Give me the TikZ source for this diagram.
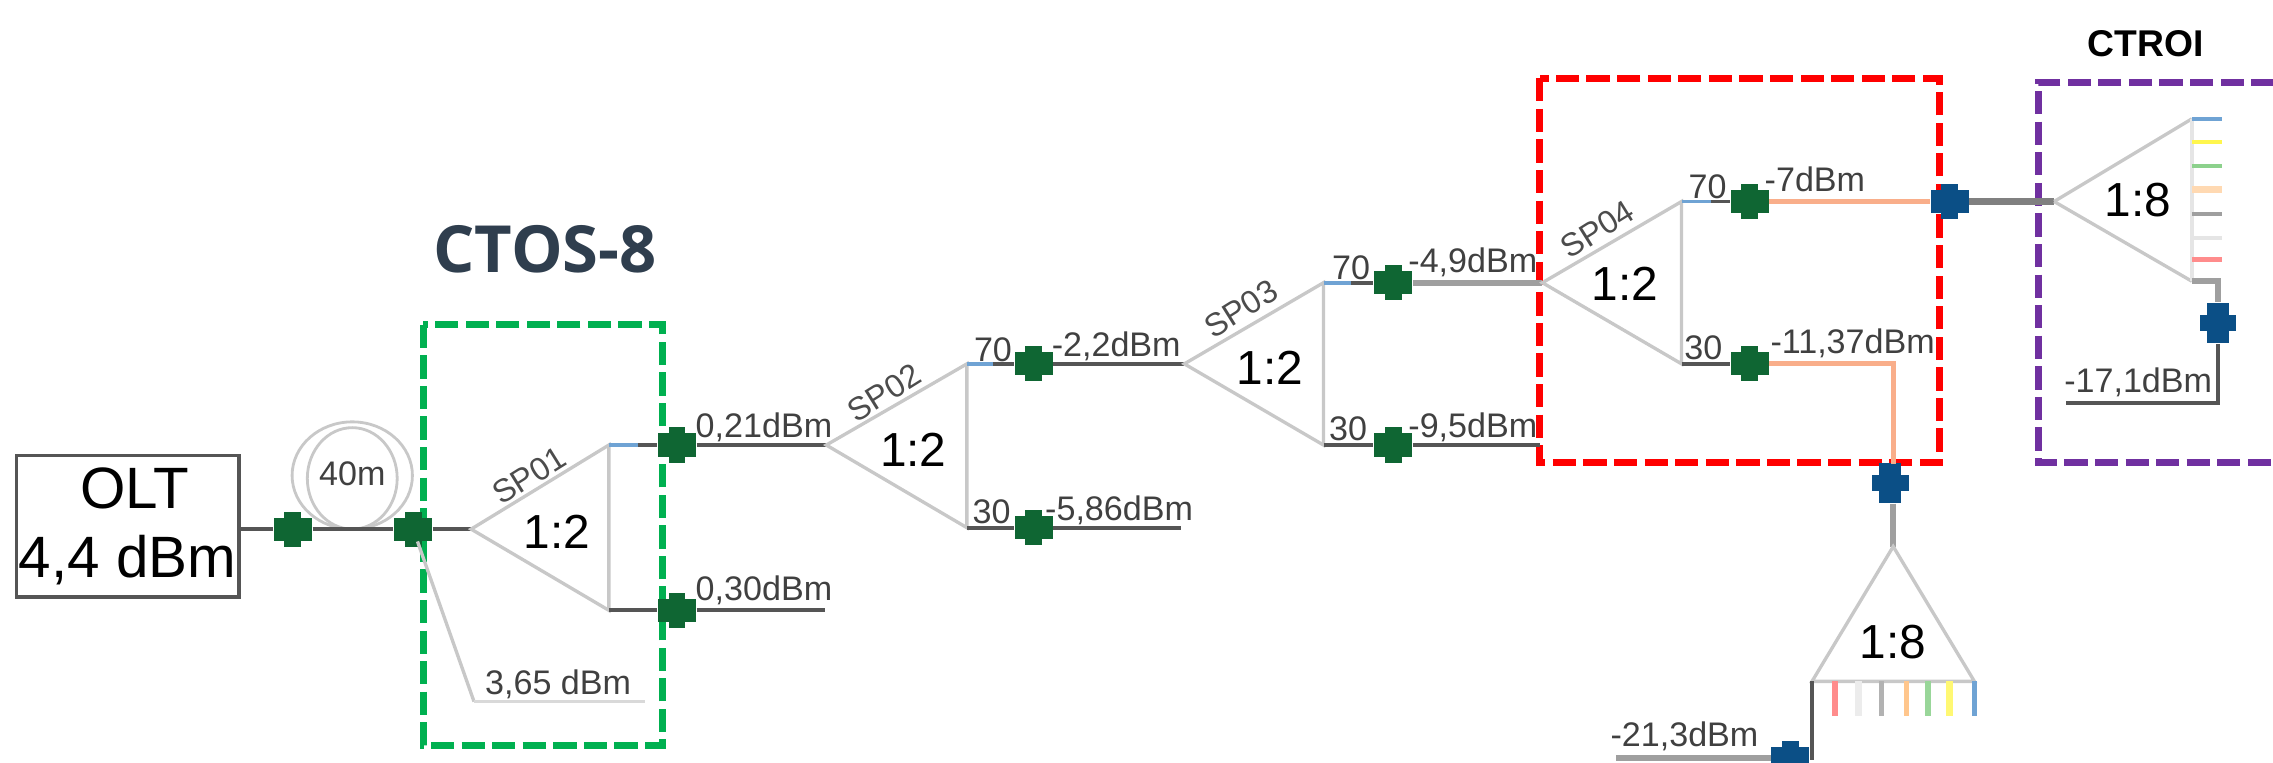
\documentclass[tikz,border=0pt]{standalone}
\usepackage{fontspec}
\setmainfont{Liberation Sans}
\newfontfamily\headfont{Open Sans}
\definecolor{plugGreen}{HTML}{0F6633}
\definecolor{plugBlue}{HTML}{0B4F86}
\definecolor{fibreDark}{HTML}{555555}
\definecolor{fibreLight}{HTML}{C8C8C8}
\definecolor{fibreOrange}{HTML}{F9AE8A}
\definecolor{tagBlue}{HTML}{6FA3D4}
\definecolor{regionGreen}{HTML}{00B050}
\definecolor{regionPurple}{HTML}{7030A0}
\definecolor{headInk}{HTML}{2F3E4E}
\begin{document}
\begin{tikzpicture}[
  x=0.0145cm, y=-0.0145cm,
  fibre/.style={line width=1.1pt, fibreDark},
  fibre thick/.style={line width=1.8pt, gray!75},
  fibre orange/.style={line width=1.4pt, fibreOrange},
  splitter/.style={line width=0.95pt, fibreLight},
  tag blue/.style={line width=1.1pt, tagBlue},
  tail/.style={line width=#1, line cap=butt},
  region/.style={line width=2pt, dash pattern=on 6.6pt off 2.1pt},
  power/.style={font=\fontsize{9.7}{11}\selectfont, text=black!75, inner sep=0pt},
  ratio/.style={font=\fontsize{13.6}{15}\selectfont, inner sep=0pt},
  spname/.style={font=\fontsize{9.2}{11}\selectfont, text=black!70, inner sep=0pt, rotate=32},
  plug/.style={rectangle, fill=#1, inner sep=0pt, minimum width=10.8pt, minimum height=6.6pt,
    label={[rectangle, fill=#1, inner sep=0pt, minimum width=4.8pt, minimum height=10pt]center:{}}},
  vplug/.style={rectangle, fill=#1, inner sep=0pt, minimum width=6.2pt, minimum height=11.5pt,
    label={[rectangle, fill=#1, inner sep=0pt, minimum width=10.4pt, minimum height=4.6pt]center:{}}}
]
  \clip (0,0) rectangle (1568,526);

  % Dashed regions
  \draw[region, regionGreen] (292,224) rectangle (457,514);
  \draw[region, red] (1062,54) rectangle (1338,319);
  \draw[region, regionPurple] (1590,57) -- (1406,57) -- (1406,319) -- (1590,319);

  \node[font=\headfont\bfseries\fontsize{18.5}{20}\selectfont, text=headInk, inner sep=0pt] (ctosLabel) at (376,172) {CTOS-8};
  \node[font=\bfseries\fontsize{10.6}{12}\selectfont, inner sep=0pt] (ctroiLabel) at (1480,30) {CTROI};

  % Source and coil
  \node[draw=fibreDark, line width=1pt, inner sep=0pt, minimum width=63.3pt, minimum height=40.3pt,
    align=center, font=\fontsize{16.6}{19.7}\selectfont] (olt) at (88,363) {\hspace*{4pt}OLT\\4,4 dBm};
  \draw[fibreLight, line width=0.8pt] (243,328) ellipse (41.5 and 37);
  \draw[fibreLight, line width=0.8pt] (243,330) ellipse (31 and 35);
  \node[font=\fontsize{9.7}{11}\selectfont, text=black!75, inner sep=0pt] (coilLabel) at (243,327) {40m};

  \node[plug=plugGreen] (plugA) at (202,365) {};
  \node[plug=plugGreen] (plugB) at (285,365) {};
  \coordinate (sp1) at (325,365);
  \coordinate (sp1top) at (420,307);
  \coordinate (sp1bot) at (420,421);
  \draw[fibre] (plugA -| olt.east) -- (plugA);
  \draw[fibre] (plugA) -- (plugB);
  \draw[fibre] (plugB) -- (sp1);

  % First splitter
  \draw[splitter] (sp1) -- (sp1top) -- (sp1bot) -- cycle;
  \node[spname] (sp1Name) at (365,328) {SP01};
  \node[ratio] (sp1Ratio) at (384,367) {1:2};
  \coordinate (tapEnd) at (327,484);
  \coordinate (tapFree) at (445,484);
  \draw[splitter] (plugB) -- (tapEnd);
  \draw[splitter, gray!30] (tapEnd) -- (tapFree);
  \node[power] (tapLabel) at (385,472) {3,65 dBm};

  \node[plug=plugGreen] (plugC) at (467,307) {};
  \node[plug=plugGreen] (plugD) at (467,421) {};
  \coordinate (sp1endB) at (569,421);
  \draw[tag blue] (sp1top) -- (440,307);
  \draw[fibre] (440,307) -- (plugC);
  \draw[fibre] (sp1bot) -- (plugD);
  \draw[fibre] (plugD) -- (sp1endB);
  \node[power] (powC) at (527,295) {0,21dBm};
  \node[power] (powD) at (527,407) {0,30dBm};

  % Second splitter
  \coordinate (sp2) at (570,307);
  \coordinate (sp2top) at (667,251);
  \coordinate (sp2bot) at (667,364);
  \draw[fibre] (plugC) -- (sp2);
  \draw[splitter] (sp2) -- (sp2top) -- (sp2bot) -- cycle;
  \node[spname] (sp2Name) at (610,271) {SP02};
  \node[ratio] (sp2Ratio) at (630,310) {1:2};
  \node[plug=plugGreen] (plugE) at (713,251) {};
  \node[plug=plugGreen] (plugF) at (713,364) {};
  \coordinate (sp2endB) at (815,364);
  \draw[tag blue] (sp2top) -- (685,251);
  \draw[fibre] (685,251) -- (plugE);
  \draw[fibre] (sp2bot) -- (plugF);
  \draw[fibre] (plugF) -- (sp2endB);
  \node[power] (tagE) at (685,241) {70};
  \node[power] (tagF) at (684,353) {30};
  \node[power] (powE) at (770,239) {-2,2dBm};
  \node[power] (powF) at (772,352) {-5,86dBm};

  % Third splitter
  \coordinate (sp3) at (817,251);
  \coordinate (sp3top) at (913,195);
  \coordinate (sp3bot) at (913,307);
  \draw[fibre] (plugE) -- (sp3);
  \draw[splitter] (sp3) -- (sp3top) -- (sp3bot) -- cycle;
  \node[spname] (sp3Name) at (856,213) {SP03};
  \node[ratio] (sp3Ratio) at (876,254) {1:2};
  \node[plug=plugGreen] (plugG) at (961,195) {};
  \node[plug=plugGreen] (plugH) at (961,307) {};
  \coordinate (sp3endB) at (1062,307);
  \draw[tag blue] (sp3top) -- (932,195);
  \draw[fibre] (932,195) -- (plugG);
  \draw[fibre] (sp3bot) -- (plugH);
  \draw[fibre] (plugH) -- (sp3endB);
  \node[power] (tagG) at (932,185) {70};
  \node[power] (tagH) at (930,296) {30};
  \node[power] (powG) at (1016,181) {-4,9dBm};
  \node[power] (powH) at (1016,295) {-9,5dBm};

  % Fourth splitter
  \coordinate (sp4) at (1064,195);
  \coordinate (sp4top) at (1160,139);
  \coordinate (sp4bot) at (1160,251);
  \draw[fibre thick] (plugG) -- (sp4);
  \draw[splitter] (sp4) -- (sp4top) -- (sp4bot) -- cycle;
  \node[spname] (sp4Name) at (1102,158) {SP04};
  \node[ratio] (sp4Ratio) at (1121,196) {1:2};
  \node[plug=plugGreen] (plugI) at (1207,139) {};
  \node[plug=plugGreen] (plugJ) at (1207,251) {};
  \node[plug=plugBlue] (plugK) at (1345,139) {};
  \node[vplug=plugBlue] (plugL) at (1304,333) {};
  \draw[tag blue] (sp4top) -- (1180,139);
  \draw[fibre] (1180,139) -- (plugI);
  \draw[fibre] (sp4bot) -- (plugJ);
  \draw[fibre orange] (plugI) -- (plugK);
  \draw[fibre orange] (plugJ) -- (1306,251) -- (1306,320);
  \node[power] (tagI) at (1178,129) {70};
  \node[power] (tagJ) at (1175,240) {30};
  \node[power] (powI) at (1252,124) {-7dBm};
  \node[power] (powJ) at (1278,237) {-11,37dBm};

  % CTROI splitter
  \coordinate (roi) at (1417,139);
  \coordinate (roitop) at (1512,82);
  \coordinate (roibot) at (1512,194);
  \coordinate (roiend) at (1425,278);
  \draw[fibre thick, gray] (plugK) -- (roi);
  \draw[splitter] (roi) -- (roitop);
  \draw[splitter] (roi) -- (roibot);
  \draw[splitter, gray!20] (roitop) -- (roibot);
  \node[ratio] (roiRatio) at (1475,138) {1:8};
  \draw[tail=1.1pt, tagBlue] (roitop) -- ++(21,0);
  \draw[tail=1.1pt, yellow!70] (1512,98) -- ++(21,0);
  \draw[tail=1.4pt, green!60!black!45] (1512,114.5) -- ++(21,0);
  \draw[tail=2pt, orange!30] (1512,131) -- ++(21,0);
  \draw[tail=1.1pt, gray!75] (1512,147.6) -- ++(21,0);
  \draw[tail=1.1pt, gray!20] (1512,164) -- ++(21,0);
  \draw[tail=1.4pt, red!45] (1512,178.7) -- ++(21,0);
  \node[vplug=plugBlue] (plugM) at (1530,223) {};
  \draw[fibre thick] (roibot) -- (1530,194) -- (plugM);
  \draw[fibre] (plugM) -- (1530,278) -- (roiend);
  \node[power] (powM) at (1475,264) {-17,1dBm};

  % CTOS splitter below
  \coordinate (ctos) at (1306,377);
  \coordinate (ctosleft) at (1250,470);
  \coordinate (ctosright) at (1362,470);
  \draw[fibre thick] (plugL.south -| ctos) -- (ctos);
  \draw[splitter] (ctos) -- (ctosleft) -- (ctosright) -- cycle;
  \node[ratio] (ctosRatio) at (1306,443) {1:8};
  \draw[tail=1.6pt, red!45] (1266,470) -- ++(0,24);
  \draw[tail=2pt, gray!15] (1282,470) -- ++(0,24);
  \draw[tail=1.3pt, gray!60] (1298,470) -- ++(0,24);
  \draw[tail=1.3pt, orange!45] (1315,470) -- ++(0,24);
  \draw[tail=1.6pt, green!60!black!40] (1330,470) -- ++(0,24);
  \draw[tail=1.9pt, yellow!55] (1345,470) -- ++(0,24);
  \draw[tail=1.3pt, tagBlue] (1362,470) -- ++(0,24);
  \node[plug=plugBlue] (plugN) at (1235,523) {};
  \coordinate (ctosend) at (1115,523);
  \draw[fibre] (ctosleft) -- (1250,523) -- (plugN);
  \draw[fibre thick] (plugN) -- (ctosend);
  \node[power] (powN) at (1162,508) {-21,3dBm};

\end{tikzpicture}
\end{document}
